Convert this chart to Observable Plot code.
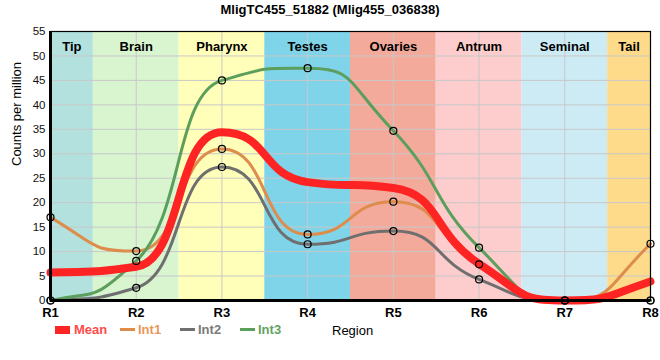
<!DOCTYPE html>
<html><head><meta charset="utf-8">
<script src="https://cdn.jsdelivr.net/npm/d3@7"></script>
<script src="https://cdn.jsdelivr.net/npm/@observablehq/plot@0.6"></script>
<style>
body{margin:0;background:#fff;font-family:"Liberation Sans",Arial,sans-serif;}
#wrap{position:relative;width:660px;height:360px;overflow:hidden;}
#title{position:absolute;top:0;left:0;width:660px;text-align:center;font-weight:bold;font-size:13px;line-height:20px;color:#000;}
#chart{position:absolute;top:20px;left:0;}
#legend{position:absolute;top:320px;left:0;width:660px;height:22px;font-size:13px;font-weight:bold;}
#legend .it{position:absolute;top:0;line-height:22px;white-space:nowrap;}
#legend .sw{position:absolute;}
</style></head><body>
<div id="wrap">
  <div id="title"></div>
  <div id="chart"></div>
  <div id="legend"></div>
</div>
<script>
const title = "MligTC455_51882 (Mlig455_036838)";
const regions = ["R1","R2","R3","R4","R5","R6","R7","R8"];
const bandNames = ["Tip","Brain","Pharynx","Testes","Ovaries","Antrum","Seminal","Tail"];
const bandColors = ["#b3e1dd","#d8f5d0","#ffffb9","#7fd4ea","#f4aa9b","#fdcccc","#cdebf5","#fddb8b"];
const int1 = [17, 10.1, 31, 13.5, 20.2, 7.4, 0, 11.6];
const int2 = [0, 2.6, 27.3, 11.5, 14.2, 4.3, 0, 0];
const int3 = [0, 8.1, 45, 47.5, 34.7, 10.8, 0, 0];
const meanVals = [5.7, 6.9, 34.4, 24.2, 23.0, 7.5, 0, 3.9];
const seriesNames = ["Mean","Int1","Int2","Int3"];
const seriesColors = ["#ff2424","#de8c4c","#6f6f6f","#5c9e5c"];
const legendTextColors = ["#ff4a4a","#e8975a","#7a7a7a","#62a262"];
const yTicks = [0,5,10,15,20,25,30,35,40,45,50,55];
const xLabel = "Region";
const yLabel = "Counts per million";

document.getElementById("title").textContent = title;

// monotone-slope cubic curve with sharper (bump-like) control handles
function smoothCurve(a) {
  return function(context) {
    let xs, ys;
    return {
      areaStart() {}, areaEnd() {},
      lineStart() { xs = []; ys = []; },
      point(x, y) { xs.push(+x); ys.push(+y); },
      lineEnd() {
        const n = xs.length;
        if (!n) return;
        context.moveTo(xs[0], ys[0]);
        if (n === 1) return;
        if (n === 2) { context.lineTo(xs[1], ys[1]); return; }
        const t = new Array(n);
        for (let i = 1; i < n - 1; i++) {
          const h0 = xs[i] - xs[i-1], h1 = xs[i+1] - xs[i];
          const s0 = (ys[i] - ys[i-1]) / h0, s1 = (ys[i+1] - ys[i]) / h1;
          const p = (s0 * h1 + s1 * h0) / (h0 + h1);
          t[i] = (Math.sign(s0) + Math.sign(s1)) * Math.min(Math.abs(s0), Math.abs(s1), 0.5 * Math.abs(p)) || 0;
        }
        const hA = xs[1] - xs[0];
        t[0] = (3 * (ys[1] - ys[0]) / hA - t[1]) / 2;
        const hB = xs[n-1] - xs[n-2];
        t[n-1] = (3 * (ys[n-1] - ys[n-2]) / hB - t[n-2]) / 2;
        for (let i = 0; i < n - 1; i++) {
          const h = xs[i+1] - xs[i];
          context.bezierCurveTo(xs[i] + a * h, ys[i] + a * h * t[i],
                                xs[i+1] - a * h, ys[i+1] - a * h * t[i+1],
                                xs[i+1], ys[i+1]);
        }
      }
    };
  };
}
const curve = smoothCurve(0.55);

const last = regions.length - 1;
const bands = bandNames.map((name, i) => ({
  name, color: bandColors[i],
  x1: Math.max(0, i - 0.5), x2: Math.min(last, i + 0.5),
  xc: (Math.max(0, i - 0.5) + Math.min(last, i + 0.5)) / 2
}));
const toPts = (arr) => arr.map((v, i) => ({x: i, y: v}));
const s1 = toPts(int1), s2 = toPts(int2), s3 = toPts(int3), sm = toPts(meanVals);
const idx = regions.map((_, i) => i);

const chart = Plot.plot({
  width: 660, height: 300,
  marginTop: 11, marginBottom: 20, marginLeft: 50, marginRight: 10,
  style: {fontFamily: "'Liberation Sans', Arial, sans-serif", background: "transparent"},
  x: {domain: [0, last]},
  y: {domain: [0, 55]},
  color: {type: "identity"},
  marks: [
    Plot.rect(bands, {x1: "x1", x2: "x2", y1: 0, y2: 55, fill: "color"}),
    Plot.gridX(idx, {stroke: "#c8c8c8", strokeOpacity: 1}),
    Plot.gridY(yTicks, {stroke: "#c8c8c8", strokeOpacity: 1}),
    Plot.axisX(idx, {tickFormat: i => regions[i], tickSize: 0, tickPadding: 7, fontSize: 13, fontWeight: "bold", label: null, fill: "#000"}),
    Plot.axisY(yTicks, {tickSize: 0, tickPadding: 5, fontSize: 11.5, label: null, fill: "#111"}),
    Plot.text(bands, {x: "xc", text: "name", frameAnchor: "top", dy: 10, fontSize: 13, fontWeight: "bold", fill: "#000"}),
    Plot.text([yLabel], {frameAnchor: "left", rotate: -90, dx: -34, fontSize: 13, fill: "#000"}),
    Plot.line(s1, {x: "x", y: "y", stroke: seriesColors[1], strokeWidth: 3, curve}),
    Plot.line(s2, {x: "x", y: "y", stroke: seriesColors[2], strokeWidth: 3, curve}),
    Plot.line(s3, {x: "x", y: "y", stroke: seriesColors[3], strokeWidth: 3, curve}),
    Plot.line(sm, {x: "x", y: "y", stroke: seriesColors[0], strokeWidth: 8, curve}),
    Plot.frame({stroke: "#000", strokeWidth: 1.2}),
    Plot.ruleX([0], {stroke: "#000", strokeWidth: 3}),
    Plot.ruleY([0], {stroke: "#000", strokeWidth: 3}),
    Plot.dot([...s1, ...s2, ...s3], {x: "x", y: "y", r: 3.5, stroke: "#000", strokeWidth: 1.2, fill: "none"})
  ]
});
document.getElementById("chart").appendChild(chart);

// legend
const leg = document.getElementById("legend");
const swX = [55, 120, 180, 240];
const txX = [74, 138, 198, 258];
seriesNames.forEach((n, i) => {
  const sw = document.createElement("div");
  sw.className = "sw";
  sw.style.left = swX[i] + "px";
  sw.style.width = "15px";
  sw.style.height = i === 0 ? "8px" : "3px";
  sw.style.top = i === 0 ? "6px" : "8px";
  sw.style.background = seriesColors[i];
  leg.appendChild(sw);
  const t = document.createElement("div");
  t.className = "it";
  t.style.left = txX[i] + "px";
  t.style.top = "-1px";
  t.style.color = legendTextColors[i];
  t.textContent = n;
  leg.appendChild(t);
});
const xl = document.createElement("div");
xl.className = "it";
xl.style.left = "332px";
xl.style.top = "0px";
xl.style.fontWeight = "normal";
xl.style.color = "#000";
xl.textContent = xLabel;
leg.appendChild(xl);
</script>
</body></html>
